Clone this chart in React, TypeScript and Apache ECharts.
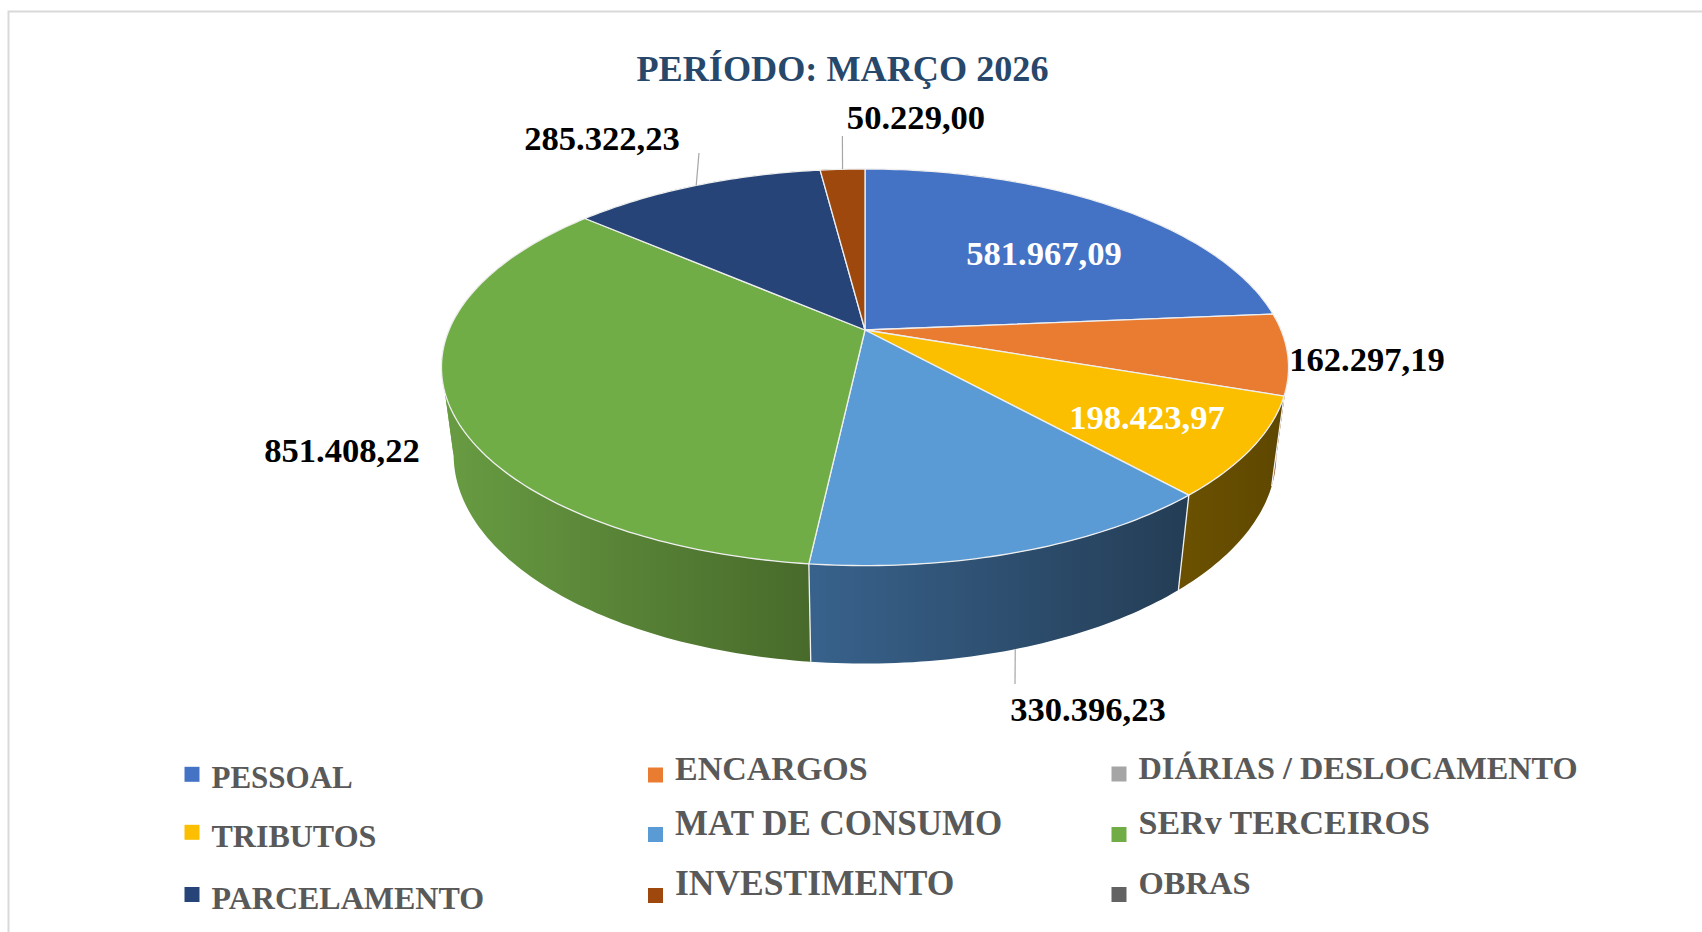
import React, { useEffect, useRef } from "react";
import * as echarts from "echarts";

const titleText = "PERÍODO: MARÇO 2026";
const categories = ["PESSOAL", "ENCARGOS", "DIÁRIAS / DESLOCAMENTO", "TRIBUTOS", "MAT DE CONSUMO", "SERv TERCEIROS", "PARCELAMENTO", "INVESTIMENTO", "OBRAS"];
const values = [581967.09, 162297.19, 0, 198423.97, 330396.23, 851408.22, 285322.23, 50229.0, 0];
const colors = ["#4472C4", "#E97C30", "#A5A5A5", "#FBBF00", "#5B9BD5", "#70AD47", "#264478", "#9E480E", "#636363"];
const wallLeft = ["#2F4C82", "#8C4A1C", "#6A6A6A", "#6A5000", "#38628C", "#689C42", "#182C4E", "#5F2B08", "#3C3C3C"];
const wallRight = ["#2F4C82", "#7E4319", "#6A6A6A", "#5E4700", "#243D55", "#486A2B", "#182C4E", "#5F2B08", "#3C3C3C"];

// Label placement (centre of each value label) and leader-line ends, by category index
const labelCenters: Record<number, [number, number]> = {
  0: [1044, 253], 1: [1367, 359], 3: [1147, 417], 4: [1088, 709], 5: [342, 450], 6: [602, 138], 7: [916, 117],
};
const labelColors: Record<number, string> = { 0: "#FFFFFF", 3: "#FFFFFF" };
const leaderEnds: Record<number, { end: [number, number]; bottom: boolean }> = {
  4: { end: [1015, 684], bottom: true }, 6: { end: [699, 153], bottom: false }, 7: { end: [842.4, 136], bottom: false },
};

// Legend placement, row by row
const legendOrder = [0, 1, 2, 3, 4, 5, 6, 7, 8];
const legendX = [184.5, 648, 1111.5];
const legendY = [765, 826, 887.5];
const iconAdjust = [[4, 3.5, 3.5], [2, 1.5, 2], [2, 0.5, 1]];
const textDy = [[2.7, -6.8, -6.3], [3.7, -11.5, -12], [3, -12.5, -12]];
const legendFont = [[31, 34, 32.3], [32, 35, 34], [32, 35.5, 32.5]];

// Perspective model of the disc
const CX = 865, CY = 330, A = 416, B = 191.3, K = 0.188, M = 0.0286, C = 89.1;
const project = (theta: number, z: number): [number, number] => {
  const u = Math.sin(theta), v = -Math.cos(theta);
  const den = 1 - K * v + M * z;
  return [CX + (A * u) / den, CY + (B * v + C * z) / den];
};
const total = values.reduce((s, v) => s + v, 0);
const cumulative = values.map((_, i) => values.slice(0, i).reduce((s, v) => s + v, 0));
const startAngle = (i: number) => (cumulative[i] / total) * Math.PI * 2;
const endAngle = (i: number, v: number) => ((cumulative[i] + v) / total) * Math.PI * 2;
const rim = (a: number, b: number, z: number) => {
  const n = Math.max(2, Math.ceil(((b - a) * 180) / Math.PI));
  const pts: [number, number][] = [];
  for (let j = 0; j <= n; j++) pts.push(project(a + ((b - a) * j) / n, z));
  return pts;
};
// Angles at which the wall of the cylinder turns away from the viewer
const silhouette = [Math.acos(-K), 2 * Math.PI - Math.acos(-K)];
const fmt = (v: number) => {
  const [int, dec] = v.toFixed(2).split(".");
  return int.replace(/\B(?=(\d{3})+(?!\d))/g, ".") + "," + dec;
};
const serif = '"Liberation Serif", "Times New Roman", serif';

export default function App() {
  const ref = useRef<HTMLDivElement>(null);
  useEffect(() => {
    const chart = echarts.init(ref.current!, null, { renderer: "svg" });
    const wallSeries = categories.map((name, i) => ({
      type: "custom", name: name + " (lateral)", coordinateSystem: "none", z: 1, silent: true, data: [[values[i]]],
      renderItem: (_p: any, api: any) => {
        const v = api.value(0);
        if (!v) return { type: "group", children: [] };
        const a = startAngle(i), b = endAngle(i, v);
        const breaks = [a, ...silhouette.filter((s) => s > a && s < b), b];
        const front = [Math.max(a, silhouette[0]), Math.min(b, silhouette[1])];
        const xs = (front[0] < front[1] ? rim(front[0], front[1], 0) : rim(a, b, 0)).map((p) => p[0]);
        const fill = {
          type: "linear", global: true, x: Math.min(...xs), y: 0, x2: Math.max(...xs), y2: 0,
          colorStops: [{ offset: 0, color: wallLeft[i] }, { offset: 1, color: wallRight[i] }],
        };
        const children: any[] = [];
        for (let k = 0; k < breaks.length - 1; k++) {
          const top = rim(breaks[k], breaks[k + 1], 0), bottom = rim(breaks[k], breaks[k + 1], 1).reverse();
          children.push({ type: "polygon", shape: { points: top.concat(bottom) }, style: { fill } });
        }
        return { type: "group", children };
      },
    }));
    const seamSeries = categories.map((name, i) => ({
      type: "custom", name: name + " (aresta)", coordinateSystem: "none", z: 2, silent: true, data: [[values[i]]],
      renderItem: (_p: any, api: any) => {
        const v = api.value(0);
        if (!v) return { type: "group", children: [] };
        const a = startAngle(i);
        if (-Math.cos(a) <= 0) return { type: "group", children: [] };
        const p = project(a, 0), q = project(a, 1);
        return { type: "line", shape: { x1: p[0], y1: p[1], x2: q[0], y2: q[1] }, style: { stroke: "#F2F2F2", lineWidth: 1.3 } };
      },
    }));
    const topSeries = categories.map((name, i) => ({
      type: "custom", name, coordinateSystem: "none", z: 3, silent: true, itemStyle: { color: colors[i] }, data: [[values[i]]],
      renderItem: (_p: any, api: any) => {
        const v = api.value(0);
        if (!v) return { type: "group", children: [] };
        const pts: [number, number][] = [[CX, CY], ...rim(startAngle(i), endAngle(i, v), 0)];
        return { type: "polygon", shape: { points: pts }, style: { fill: colors[i], stroke: "#EFEFEF", lineWidth: 1.3, lineJoin: "round" } };
      },
    }));
    const labelSeries = categories.map((name, i) => ({
      type: "custom", name: name + " (rótulo)", coordinateSystem: "none", z: 4, silent: true, data: [[values[i]]],
      renderItem: (_p: any, api: any) => {
        const v = api.value(0);
        if (!v) return { type: "group", children: [] };
        const children: any[] = [];
        const c = labelCenters[i];
        const leader = leaderEnds[i];
        if (leader) {
          const s = project((startAngle(i) + endAngle(i, v)) / 2, leader.bottom ? 1 : 0);
          children.push({ type: "line", shape: { x1: s[0], y1: s[1], x2: leader.end[0], y2: leader.end[1] }, style: { stroke: "#A6A6A6", lineWidth: 1.2 } });
        }
        children.push({
          type: "text", x: c[0], y: c[1],
          style: { text: fmt(v), fill: labelColors[i] || "#000000", font: `bold 34.6px ${serif}`, textAlign: "center", textVerticalAlign: "middle" },
        });
        return { type: "group", children };
      },
    }));

    const LH = 36;
    const legends = legendOrder.map((idx, k) => {
      const col = k % 3, row = Math.floor(k / 3);
      const dy = textDy[row][col];
      const spacer = Math.abs(dy) * 2;
      const h = LH + spacer;
      const boxTop = legendY[row] + iconAdjust[row][col] + Math.min(0, 7.5 - h / 2);
      const name = categories[idx];
      return {
        show: true, data: [name], left: legendX[col], top: boxTop, padding: 0, icon: "rect",
        itemWidth: 15, itemHeight: 15, selectedMode: false,
        formatter: (n: string) => (dy > 0 ? `{s| }\n{t|${n}}` : `{t|${n}}\n{s| }`),
        textStyle: {
          padding: [0, 0, 0, 7],
          rich: {
            t: { color: "#595959", fontWeight: "bold", fontFamily: serif, fontSize: legendFont[row][col], lineHeight: LH },
            s: { fontSize: 1, lineHeight: spacer },
          },
        },
      };
    });

    chart.setOption({
      animation: false,
      backgroundColor: "#FFFFFF",
      title: { text: titleText, left: 842.5, top: 48.5, textAlign: "center", textStyle: { color: "#27476B", fontFamily: serif, fontWeight: "bold", fontSize: 36.2, lineHeight: 40 }, padding: 0 },
      legend: legends,
      graphic: [{ type: "polyline", silent: true, shape: { points: [[8.5, 940], [8.5, 11.5], [1710, 11.5]] }, style: { stroke: "#D9D9D9", lineWidth: 2, fill: null } }],
      series: [...wallSeries, ...seamSeries, ...topSeries, ...labelSeries],
    });
    return () => chart.dispose();
  }, []);
  return <div ref={ref} style={{ position: "fixed", left: 0, top: 0, width: 1702, height: 932 }} />;
}
